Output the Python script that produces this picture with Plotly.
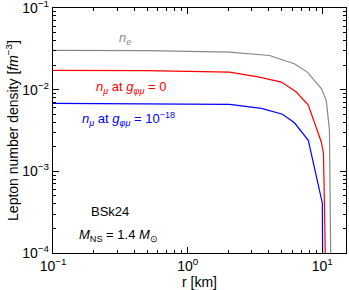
import plotly.graph_objects as go

# data (r in km, densities in fm^-3)
r_e = [0.1, 0.5, 2.05, 4.05, 6.2, 7.74, 9.84, 10.7, 11.3, 11.55, 11.7]
n_e = [0.0302, 0.0300, 0.0288, 0.0262, 0.0208, 0.0164, 0.0103, 0.0074, 0.0032, 0.0003, 0.00001]

r_mu0 = [0.1, 0.5, 2.05, 3.41, 4.97, 6.41, 7.87, 9.84, 10.2, 10.7, 10.8]
n_mu0 = [0.0172, 0.0171, 0.0164, 0.01426, 0.0124, 0.00935, 0.00646, 0.00227, 0.00166, 0.000117, 0.00001]

r_mu18 = [0.1, 0.52, 2.05, 3.53, 5.06, 6.21, 7.87, 10.0, 10.15]
n_mu18 = [0.0068, 0.0067, 0.0066, 0.0059, 0.0050, 0.00393, 0.0024, 0.00041, 0.00001]

x_tickvals = [0.1, 1, 10]
x_ticktext = ["10<sup>−1</sup>", "10<sup>0</sup>", "10<sup>1</sup>"]
y_tickvals = [1e-4, 1e-3, 1e-2, 1e-1]
y_ticktext = ["10<sup>−4</sup>", "10<sup>−3</sup>", "10<sup>−2</sup>", "10<sup>−1</sup>"]

x_minor = [m * d for d in (0.1, 1, 10) for m in range(2, 10)]
y_minor = [m * d for d in (1e-4, 1e-3, 1e-2) for m in range(2, 10)]

FONT = "Liberation Sans, Arial, sans-serif"

fig = go.Figure()
fig.add_trace(go.Scatter(x=r_e, y=n_e, mode="lines", line=dict(color="#888888", width=1.2)))
fig.add_trace(go.Scatter(x=r_mu0, y=n_mu0, mode="lines", line=dict(color="#ff0000", width=1.2)))
fig.add_trace(go.Scatter(x=r_mu18, y=n_mu18, mode="lines", line=dict(color="#0000ff", width=1.2)))

axis_common = dict(
    type="log", showgrid=False, zeroline=False, showline=True, linecolor="black", linewidth=1.3,
    mirror="ticks", ticks="inside", ticklen=6, tickcolor="black", automargin=False,
    tickfont=dict(family=FONT, size=14, color="black"), tickmode="array",
    ticklabeloverflow="allow",
)

fig.update_xaxes(range=[-1, 1.176], tickvals=x_tickvals, ticktext=x_ticktext,
                 minor=dict(ticks="inside", ticklen=3, tickcolor="black", showgrid=False, tickmode="array", tickvals=x_minor),
                 title=dict(text="r [km]", font=dict(family=FONT, size=14, color="black"), standoff=0),
                 **axis_common)
fig.update_yaxes(range=[-4, -1], tickvals=y_tickvals, ticktext=y_ticktext,
                 minor=dict(ticks="inside", ticklen=3, tickcolor="black", showgrid=False, tickmode="array", tickvals=y_minor),
                 title=dict(text="Lepton number density [<i>fm</i><sup>−3</sup>]", font=dict(family=FONT, size=14, color="black"), standoff=0),
                 **axis_common)

def ann(x, y, text, color, size=13):
    fig.add_annotation(x=x, y=y, xref="paper", yref="paper", text=text, showarrow=False,
                       font=dict(family=FONT, size=size, color=color), xanchor="center", yanchor="middle")

W, H = 349, 290
L, R, T, B = 53, 3, 8, 37
pw, ph = W - L - R, H - T - B
def px(xp): return (xp - L) / pw
def py(yp): return 1 - (yp - T) / ph

ann(px(125), py(38), "<i>n<sub>e</sub></i>", "#888888")
ann(px(131), py(87), "<i>n</i><sub><i>μ</i></sub> at <i>g</i><sub><i>φμ</i></sub> = 0", "#ff0000")
ann(px(128), py(119), "<i>n</i><sub><i>μ</i></sub> at <i>g</i><sub><i>φμ</i></sub> = 10<sup>−18</sup>", "#0000ff")
ann(px(110), py(211), "BSk24", "black")
ann(px(118), py(235), "<i>M</i><sub>NS</sub> = 1.4 <i>M</i><sub>⊙</sub>", "black")

fig.update_layout(
    width=W, height=H, margin=dict(l=L, r=R, t=T, b=B),
    plot_bgcolor="white", paper_bgcolor="white", showlegend=False,
    font=dict(family=FONT, color="black"),
)

fig.write_html("out.html", config={"displayModeBar": False})
with open("out.html", encoding="utf-8") as f:
    html = f.read()
html = html.replace("<head>", "<head><style>html,body{margin:0;padding:0;overflow:hidden}</style>", 1)
with open("out.html", "w", encoding="utf-8") as f:
    f.write(html)
